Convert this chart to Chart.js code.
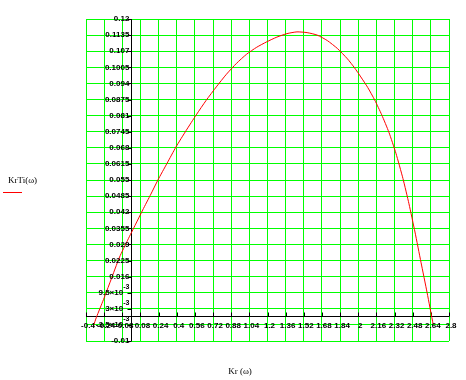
<!DOCTYPE html>
<html>
<head>
<meta charset="utf-8">
<script src="https://cdn.jsdelivr.net/npm/chart.js@4/dist/chart.umd.min.js"></script>
<style>
  html, body { margin: 0; padding: 0; background: #fff; }
  canvas { display: block; }
</style>
</head>
<body>
<canvas id="grafico" width="466" height="380"></canvas>
<script>
/* datos: Kr(w) vs K.Ti(w) */
const kr  = [-0.335, -0.308, -0.246, -0.184, -0.104, -0.033, 0.038, 0.1, 0.172, 0.234, 0.314,
             0.394, 0.483, 0.572, 0.66, 0.749, 0.838, 0.927, 1.016, 1.105, 1.194, 1.283,
             1.372, 1.46, 1.549, 1.638, 1.727, 1.816, 1.905, 1.967, 2.023, 2.083, 2.145,
             2.207, 2.27, 2.332, 2.394, 2.447, 2.5, 2.553, 2.607, 2.66];
const kti = [-0.004, -0.0004, 0.0067, 0.0142, 0.0239, 0.0307, 0.0372, 0.0429, 0.0493, 0.055, 0.0617,
             0.0684, 0.075, 0.0813, 0.0872, 0.0926, 0.0977, 0.1021, 0.1058, 0.1086, 0.1108, 0.1127,
             0.1141, 0.1148, 0.1145, 0.1135, 0.1113, 0.1081, 0.1039, 0.1003, 0.0966, 0.0924, 0.0873,
             0.0813, 0.0743, 0.0658, 0.0556, 0.0454, 0.034, 0.0218, 0.0095, -0.0032];

const xTicks = [-0.4, -0.24, -0.08, 0.08, 0.24, 0.4, 0.56, 0.72, 0.88, 1.04, 1.2, 1.36, 1.52,
                1.68, 1.84, 2, 2.16, 2.32, 2.48, 2.64, 2.8];
const xTickLabels = ['-0.4', '-0.24', '-0.08', '0.08', '0.24', '0.4', '0.56', '0.72', '0.88', '1.04',
                     '1.2', '1.36', '1.52', '1.68', '1.84', '2', '2.16', '2.32', '2.48', '2.64', '2.8'];
const yTicks = [0.12, 0.1135, 0.107, 0.1005, 0.094, 0.0875, 0.081, 0.0745, 0.068, 0.0615, 0.055,
                0.0485, 0.042, 0.0355, 0.029, 0.0225, 0.016, 0.0095, 0.003, -0.0035, -0.01];
const yTickLabels = ['0.12', '0.1135', '0.107', '0.1005', '0.094', '0.0875', '0.081', '0.0745',
                     '0.068', '0.0615', '0.055', '0.0485', '0.042', '0.0355', '0.029', '0.0225',
                     '0.016', '9.5\u00d710^-3', '3\u00d710^-3', '-3.5\u00d710^-3', '-0.01'];

const FUENTE = '"Liberation Sans", sans-serif';
const SERIF = '"Liberation Serif", serif';

function textoExp(ctx, txt, x, y) {
    // texto alineado a la derecha con exponente opcional (a^b)
    const [base, exp] = txt.split('^');
    ctx.textAlign = 'right';
    ctx.font = 'bold 8px ' + FUENTE;
    if (!exp) { ctx.fillText(base, x, y); return; }
    ctx.font = 'bold 7px ' + FUENTE;
    const we = ctx.measureText(exp).width;
    ctx.fillText(exp, x, y - 6);
    ctx.font = 'bold 8px ' + FUENTE;
    ctx.fillText(base, x - we, y);
}

const ejes = {
    id: 'ejes',
    beforeDatasetsDraw(chart) {
        const { ctx, chartArea: a, scales: { x, y } } = chart;
        const x0 = Math.round(x.getPixelForValue(0)) + 0.5;
        const y0 = Math.round(y.getPixelForValue(0)) + 0.5;
        ctx.save();
        ctx.strokeStyle = '#000';
        ctx.lineWidth = 1;
        ctx.beginPath();
        ctx.moveTo(a.left, y0); ctx.lineTo(a.right, y0);
        ctx.moveTo(x0, a.top); ctx.lineTo(x0, a.bottom);
        xTicks.forEach(v => {
            const px = Math.round(x.getPixelForValue(v)) + 0.5;
            ctx.moveTo(px, y0 - 4); ctx.lineTo(px, y0);
        });
        yTicks.forEach(v => {
            const py = Math.round(y.getPixelForValue(v)) + 0.5;
            ctx.moveTo(x0 - 4, py); ctx.lineTo(x0, py);
        });
        ctx.stroke();
        ctx.restore();
    },
    afterDatasetsDraw(chart) {
        const { ctx, scales: { x, y } } = chart;
        const x0 = x.getPixelForValue(0);
        const y0 = y.getPixelForValue(0);
        ctx.save();
        ctx.fillStyle = '#000';
        ctx.textBaseline = 'middle';
        yTicks.forEach((v, i) => textoExp(ctx, yTickLabels[i], x0 - 2, y.getPixelForValue(v)));
        ctx.font = 'bold 8px ' + FUENTE;
        ctx.textAlign = 'center';
        xTicks.forEach((v, i) => ctx.fillText(xTickLabels[i], x.getPixelForValue(v) + 2, y0 + 10));

        // titulos
        ctx.font = '9px ' + SERIF;
        ctx.textAlign = 'left';
        ctx.fillText('KrTi(\u03c9)', 8, 181);
        ctx.textAlign = 'center';
        ctx.fillText('Kr (\u03c9)', 240, 372);
        ctx.strokeStyle = '#ff0000';
        ctx.lineWidth = 1;
        ctx.beginPath();
        ctx.moveTo(3, 192.5); ctx.lineTo(22, 192.5);
        ctx.stroke();
        ctx.restore();
    }
};

new Chart(document.getElementById('grafico'), {
    type: 'scatter',
    data: {
        datasets: [{
            label: 'KrTi',
            data: kr.map((v, i) => ({ x: v, y: kti[i] })),
            showLine: true,
            borderColor: '#ff0000',
            borderWidth: 1,
            pointRadius: 0,
            tension: 0.2
        }]
    },
    options: {
        responsive: false,
        animation: false,
        layout: { padding: { left: 86, right: 17, top: 19, bottom: 39 } },
        plugins: { legend: { display: false }, tooltip: { enabled: false } },
        scales: {
            x: {
                type: 'linear', min: -0.4, max: 2.8,
                afterBuildTicks: s => { s.ticks = xTicks.map(v => ({ value: v })); },
                ticks: { display: false },
                grid: { color: '#00ff00', lineWidth: 1, drawTicks: false },
                border: { display: false }
            },
            y: {
                type: 'linear', min: -0.01, max: 0.12,
                afterBuildTicks: s => { s.ticks = yTicks.map(v => ({ value: v })); },
                ticks: { display: false },
                grid: { color: '#00ff00', lineWidth: 1, drawTicks: false },
                border: { display: false }
            }
        }
    },
    plugins: [ejes]
});
</script>
</body>
</html>
